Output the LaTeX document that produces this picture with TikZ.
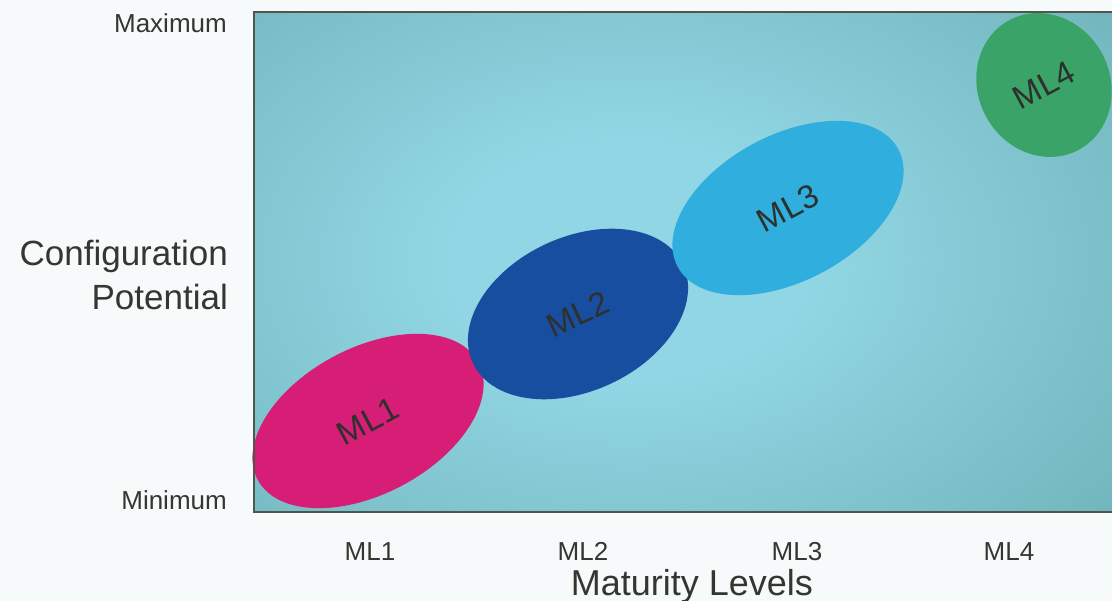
\documentclass[tikz,border=0pt]{standalone}
\usepackage{fontspec}
\setmainfont{Liberation Sans}
\usetikzlibrary{shapes.geometric}

\definecolor{pagebg}{RGB}{246,250,251}
\definecolor{labelink}{RGB}{50,56,48}
\definecolor{blobink}{RGB}{45,48,45}
\definecolor{frameedge}{RGB}{80,86,72}
\definecolor{glowin}{RGB}{145,214,228}
\definecolor{glowout}{RGB}{94,160,163}
\definecolor{mlpink}{RGB}{214,30,118}
\definecolor{mlnavy}{RGB}{24,78,160}
\definecolor{mlsky}{RGB}{48,174,222}
\definecolor{mlgreen}{RGB}{58,164,104}

% soft light patch in the middle of the chart area
\pgfdeclareradialshading{glow}{\pgfpoint{0bp}{0bp}}{%
  color(0bp)=(glowin); color(5bp)=(glowin); color(25bp)=(glowout); color(50bp)=(glowout)}

\newcommand{\fs}[1]{\fontsize{#1}{#1}\selectfont}

\tikzset{
  axislabel/.style={text=labelink, inner sep=0pt},
  blob/.style={ellipse, inner sep=0pt, text=blobink, font=\fs{33}},
}

\begin{document}
\begin{tikzpicture}[x=1pt, y=-1pt]
  % page
  \fill[pagebg] (0,0) rectangle (1112,601);
  \useasboundingbox (0,0) rectangle (1112,601);

  % chart area with a light centre
  \begin{scope}
    \clip (254,12) rectangle (1113,512);
    \fill[glowout] (254,12) rectangle (1113,512);
    \shade[shading=glow] (630,260) ellipse (900 and 600);
  \end{scope}

  % maturity level blobs
  \node[blob, fill=mlpink, minimum width=250, minimum height=146, rotate=28] (b1) at (368,421) {ML1};
  \node[blob, fill=mlnavy, minimum width=232, minimum height=154, rotate=25] (b2) at (578,314) {ML2};
  \node[blob, fill=mlsky,  minimum width=250, minimum height=146, rotate=28] (b3) at (788,208) {ML3};
  \node[blob, fill=mlgreen, minimum width=132, minimum height=147, rotate=28] (b4) at (1044,85) {ML4};

  % frame of the chart area
  \draw[frameedge, line width=1.6pt] (1113,12) -- (254,12) -- (254,512) -- (1113,512);

  % vertical axis
  \node[axislabel, anchor=base east, font=\fs{26}] (ymax) at (227,33) {Maximum};
  \node[axislabel, anchor=base east, font=\fs{26}] (ymin) at (227,510) {Minimum};
  \node[axislabel, anchor=base east, font=\fs{35}] (ytitle1) at (228,266) {Configuration};
  \node[axislabel, anchor=base east, font=\fs{35}] (ytitle2) at (228,310) {Potential};

  % horizontal axis
  \node[axislabel, anchor=base, font=\fs{26}] (x1) at (370,561) {ML1};
  \node[axislabel, anchor=base, font=\fs{26}] (x2) at (583,561) {ML2};
  \node[axislabel, anchor=base, font=\fs{26}] (x3) at (797,561) {ML3};
  \node[axislabel, anchor=base, font=\fs{26}] (x4) at (1009,561) {ML4};
  \node[axislabel, anchor=base, font=\fs{36}] (xtitle) at (692,595) {Maturity Levels};
\end{tikzpicture}
\end{document}
